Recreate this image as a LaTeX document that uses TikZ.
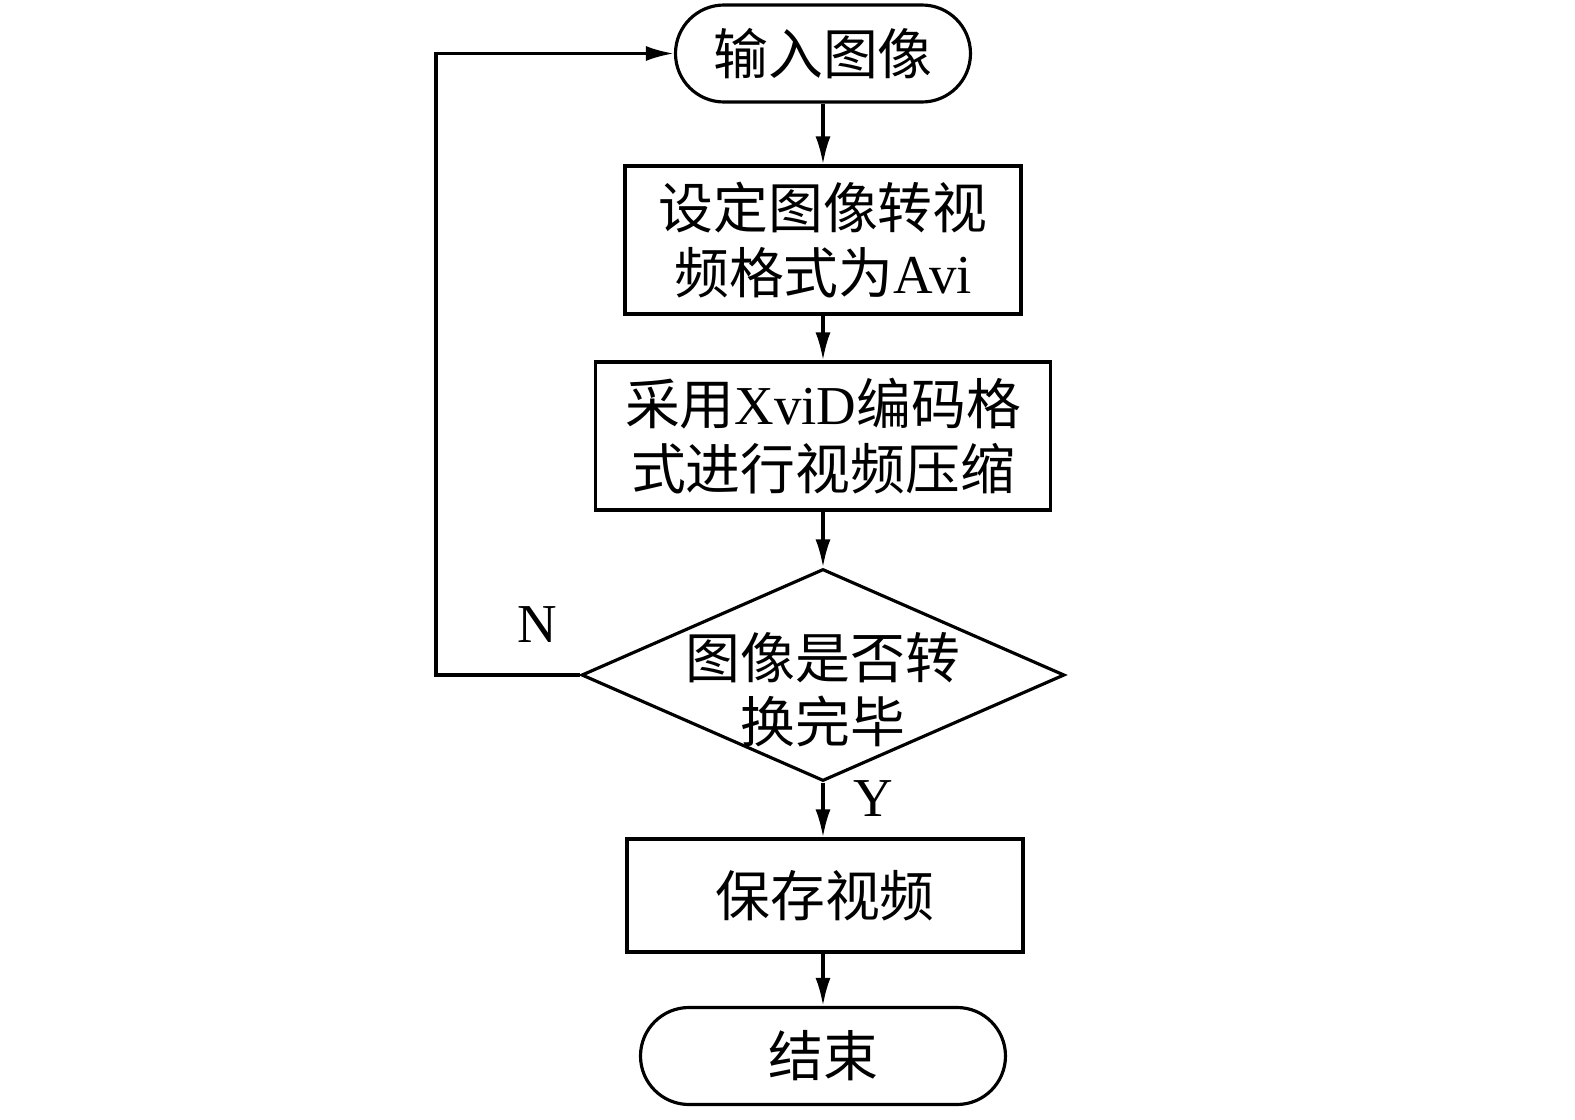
\documentclass[tikz,border=0pt]{standalone}
\usepackage{fontspec}
\setmainfont{Liberation Serif}
\newfontfamily\cjk{Noto Sans CJK SC}
\usetikzlibrary{arrows.meta,shapes.geometric}
\begin{document}
\begin{tikzpicture}[x=1cm,y=1cm,
 every node/.style={font=\fontsize{15.6}{18.3}\selectfont},
 box/.style={draw, line width=0.9pt, inner sep=0pt, align=center},
 term/.style={draw, line width=0.9pt, rounded corners=0.485cm, inner sep=0pt},
 flow/.style={line width=0.9pt, -{Latex[length=0.28cm,width=0.15cm]}}]
\useasboundingbox (0,0) rectangle (15.75,-11.2);
\node[term, minimum width=2.95cm, minimum height=0.97cm] (start) at (8.23,-0.535) {\cjk 输入图像};
\node[box, minimum width=3.96cm, minimum height=1.48cm] (b1) at (8.23,-2.40) {{\cjk 设定图像转视}\\{\cjk 频格式为}Avi};
\node[box, minimum width=4.55cm, minimum height=1.48cm] (b2) at (8.23,-4.36) {{\cjk 采用}XviD{\cjk 编码格}\\{\cjk 式进行视频压缩}};
\node[diamond, draw, line width=0.9pt, inner sep=0pt, minimum width=4.83cm, minimum height=2.12cm] (dec) at (8.23,-6.75) {};
\node[align=center, inner sep=0pt] (dect) at (8.23,-6.90) {{\cjk 图像是否转}\\{\cjk 换完毕}};
\node[box, minimum width=3.96cm, minimum height=1.13cm] (b3) at (8.25,-8.955) {\cjk 保存视频};
\node[term, minimum width=3.65cm, minimum height=0.97cm] (end) at (8.23,-10.56) {\cjk 结束};
\coordinate (tc) at (4.36,-0.535);
\node (nl) at (5.37,-6.25) {N};
\node (yl) at (8.73,-7.99) {Y};
\draw[flow] (start.south) -- (b1.north);
\draw[flow] (b1.south) -- (b2.north);
\draw[flow] (b2.south) -- (dec.north);
\draw[flow] (dec.south) -- (dec.south |- b3.north);
\draw[flow] (b3.south -| end.north) -- (end.north);
\draw[flow] (dec.west) -| (tc) -- (start.west);
\end{tikzpicture}
\end{document}
